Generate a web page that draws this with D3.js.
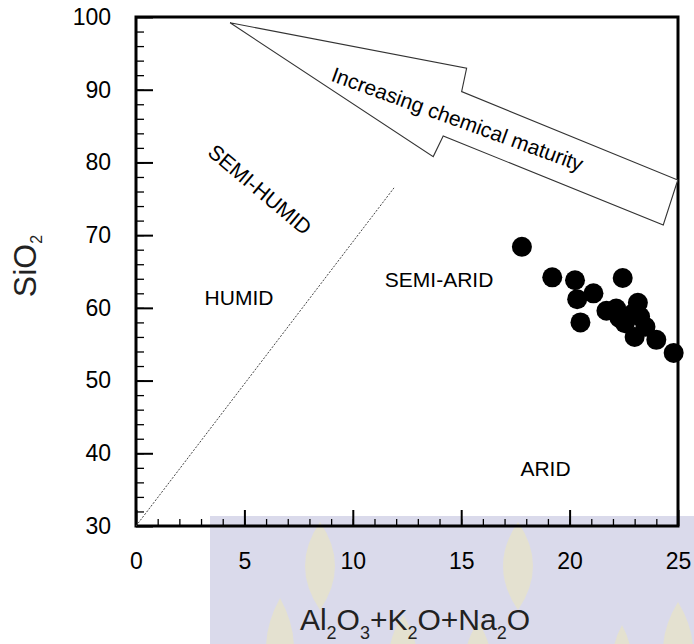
<!DOCTYPE html>
<html>
<head>
<meta charset="utf-8">
<script src="https://cdn.jsdelivr.net/npm/d3@7"></script>
<style>
  body { margin: 0; background: #fff; }
  svg { display: block; font-family: "Liberation Sans", Arial, sans-serif; }
</style>
</head>
<body>
<div id="chart"></div>
<script>
// Sample points (Al2O3+K2O+Na2O, SiO2)
const alkAl = [17.8, 19.2, 20.25, 22.45, 21.1, 20.35, 20.5, 21.7, 22.15, 23.15, 23.25, 22.55, 23.5, 23.0, 24.0, 24.8, 22.95, 22.3];
const silica = [68.4, 64.2, 63.8, 64.1, 62.0, 61.2, 58.0, 59.6, 59.9, 60.7, 58.8, 57.9, 57.4, 56.0, 55.6, 53.8, 59.3, 58.6];

// climate boundary line (from origin of the diagram)
const boundary = [[0, 30], [11.9, 76.5]];

// "increasing chemical maturity" arrow outline
const arrowPts = [[4.34, 99.2], [15.25, 92.96], [15.02, 89.74], [24.99, 77.59], [24.32, 71.4], [14.17, 83.64], [13.71, 80.8]];

// field labels: text, x, y, rotation
const fieldLabels = [
  ["HUMID", 4.75, 60.4, 0],
  ["SEMI-HUMID", 5.5, 75.5, 40],
  ["SEMI-ARID", 13.98, 62.87, 0],
  ["ARID", 18.89, 36.88, 0]
];
const arrowLabel = ["Increasing chemical maturity", 14.71, 85.0, 20];

const xTicks = [0, 5, 10, 15, 20, 25];
const yTicks = [30, 40, 50, 60, 70, 80, 90, 100];

const W = 694, H = 644;
const margin = { top: 17, right: 16, bottom: 118, left: 136 };

const svg = d3.select("#chart").append("svg")
    .attr("width", W)
    .attr("height", H);

// faint watermark behind the lower part of the page
const wm = svg.append("g");
wm.append("rect")
    .attr("x", 210).attr("y", 516)
    .attr("width", W - 210).attr("height", H - 516)
    .attr("fill", "#dadaeb");
const leaves = [[320, 522, 610, 15], [518, 522, 610, 15], [280, 598, 700, 14], [403, 615, 700, 14], [478, 622, 700, 13], [678, 602, 700, 15], [622, 625, 700, 10]];
leaves.forEach(([cx, y0, y1, w]) => {
  const m = (y0 + y1) / 2;
  wm.append("path")
      .attr("d", `M${cx},${y0} Q${cx + w * 2},${m} ${cx},${y1} Q${cx - w * 2},${m} ${cx},${y0} Z`)
      .attr("fill", "#e4e1d0");
});

const x = d3.scaleLinear().domain([0, 25]).range([margin.left, W - margin.right]);
const y = d3.scaleLinear().domain([30, 100]).range([H - margin.bottom, margin.top]);

// minor ticks
svg.append("g")
    .attr("transform", `translate(0,${y(30)})`)
    .call(d3.axisBottom(x).tickValues(d3.range(1, 25)).tickSizeInner(-7).tickSizeOuter(0).tickFormat(""))
    .call(g => g.select(".domain").remove())
    .selectAll("line").attr("stroke-width", 1.3);
svg.append("g")
    .attr("transform", `translate(${x(0)},0)`)
    .call(d3.axisLeft(y).tickValues(d3.range(32, 100, 2)).tickSizeInner(-8).tickSizeOuter(0).tickFormat(""))
    .call(g => g.select(".domain").remove())
    .selectAll("line").attr("stroke-width", 1.3);

// major ticks + labels
const xAxis = svg.append("g")
    .attr("transform", `translate(0,${y(30)})`)
    .call(d3.axisBottom(x).tickValues(xTicks).tickSizeInner(-16).tickSizeOuter(0).tickPadding(27));
const yAxis = svg.append("g")
    .attr("transform", `translate(${x(0)},0)`)
    .call(d3.axisLeft(y).tickValues(yTicks).tickSizeInner(-17).tickSizeOuter(0).tickPadding(25));

[xAxis, yAxis].forEach(a => {
  a.select(".domain").remove();
  a.selectAll("line").attr("stroke-width", 2);
  a.selectAll("text").attr("font-size", 23).attr("fill", "#000")
      .attr("font-family", "'Liberation Sans', Arial, sans-serif");
});

// frame
svg.append("rect")
    .attr("x", x(0)).attr("y", y(100))
    .attr("width", x(25) - x(0)).attr("height", y(30) - y(100))
    .attr("fill", "none")
    .attr("stroke", "#000")
    .attr("stroke-width", 3);

// boundary line
svg.append("path")
    .attr("d", d3.line().x(d => x(d[0])).y(d => y(d[1]))(boundary))
    .attr("fill", "none")
    .attr("stroke", "#444")
    .attr("stroke-width", 1)
    .attr("stroke-dasharray", "2,1.5");

// arrow
svg.append("path")
    .attr("d", d3.line().x(d => x(d[0])).y(d => y(d[1]))(arrowPts) + "Z")
    .attr("fill", "#fff")
    .attr("stroke", "#333")
    .attr("stroke-width", 1.1);

svg.append("text")
    .attr("transform", `translate(${x(arrowLabel[1])},${y(arrowLabel[2])}) rotate(${arrowLabel[3]})`)
    .attr("text-anchor", "middle")
    .attr("font-size", 21)
    .attr("fill", "#000")
    .text(arrowLabel[0]);

svg.selectAll(".field")
    .data(fieldLabels)
    .join("text")
    .attr("class", "field")
    .attr("transform", d => `translate(${x(d[1])},${y(d[2])}) rotate(${d[3]})`)
    .attr("text-anchor", "middle")
    .attr("font-size", 21)
    .attr("fill", "#000")
    .text(d => d[0]);

// samples
svg.selectAll(".pt")
    .data(alkAl.map((v, i) => [v, silica[i]]))
    .join("circle")
    .attr("class", "pt")
    .attr("cx", d => x(d[0]))
    .attr("cy", d => y(d[1]))
    .attr("r", 10)
    .attr("fill", "#000");

// axis titles
const xt = svg.append("text")
    .attr("x", 415).attr("y", 630)
    .attr("text-anchor", "middle")
    .attr("font-size", 30)
    .attr("fill", "#222");
let shifted = false;
[["Al", 0], ["2", 1], ["O", 0], ["3", 1], ["+K", 0], ["2", 1], ["O+Na", 0], ["2", 1], ["O", 0]].forEach(([t, sub]) => {
  xt.append("tspan")
      .attr("font-size", sub ? 18 : 30)
      .attr("dy", sub ? 9 : (shifted ? -9 : 0))
      .text(t);
  shifted = !!sub;
});

const yt = svg.append("text")
    .attr("transform", "translate(36,266) rotate(-90)")
    .attr("text-anchor", "middle")
    .attr("font-size", 32)
    .attr("fill", "#222");
yt.append("tspan").text("SiO");
yt.append("tspan").attr("font-size", 16).attr("dy", 6).text("2");
</script>
</body>
</html>
